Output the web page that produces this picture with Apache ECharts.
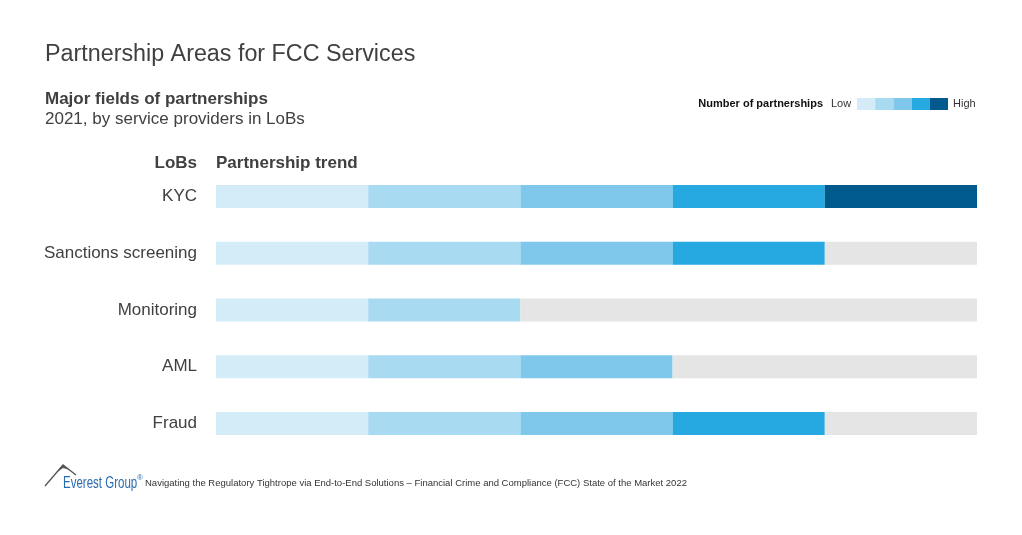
<!DOCTYPE html>
<html>
<head>
<meta charset="utf-8">
<script src="https://cdn.jsdelivr.net/npm/echarts@6/dist/echarts.min.js"></script>
<style>html,body{margin:0;padding:0;background:#fff}#c{width:1022px;height:535px}</style>
</head>
<body>
<div id="c"></div>
<script>
const categories = ['KYC', 'Sanctions screening', 'Monitoring', 'AML', 'Fraud'];
const levels = [5, 4, 2, 3, 4];
const maxLevel = 5;
const levelColors = ['#D4ECF8', '#A8DAF2', '#7FC8EC', '#26A8E0', '#005B8C'];
const restColor = '#E5E5E5';

const FONT = 'Liberation Sans, Arial, sans-serif';
const chart = echarts.init(document.getElementById('c'));

const series = levelColors.map((col, i) => ({
  type: 'bar', stack: 'p', barWidth: 23, silent: true,
  itemStyle: { color: col },
  data: levels.map(l => (l > i ? 1 : 0))
}));
series.push({
  type: 'bar', stack: 'p', barWidth: 23, silent: true,
  itemStyle: { color: restColor },
  data: levels.map(l => maxLevel - l)
});

const legendRects = levelColors.map((col, i) => ({
  type: 'rect', shape: { x: 857 + i * 18.2, y: 98, width: 18.2, height: 12 },
  style: { fill: col }
}));

function txt(x, y, text, font, fill, align) {
  return { type: 'text', x: x, y: y, style: { text: text, fill: fill, font: font, textAlign: align || 'left', textVerticalAlign: 'middle' } };
}

chart.setOption({
  animation: false,
  grid: { left: 216, right: 45, top: 168, bottom: 83 },
  xAxis: { type: 'value', min: 0, max: maxLevel, show: false },
  yAxis: {
    type: 'category', data: categories, inverse: true,
    axisLine: { show: false }, axisTick: { show: false },
    axisLabel: { color: '#404040', fontSize: 17, fontFamily: FONT, margin: 19 }
  },
  series: series,
  graphic: [
    txt(45, 55, 'Partnership Areas for FCC Services', '23.3px ' + FONT, '#404040'),
    txt(45, 99, 'Major fields of partnerships', 'bold 17px ' + FONT, '#404040'),
    txt(45, 119, '2021, by service providers in LoBs', '17px ' + FONT, '#404040'),
    txt(197, 163, 'LoBs', 'bold 17px ' + FONT, '#404040', 'right'),
    txt(216, 163, 'Partnership trend', 'bold 17px ' + FONT, '#404040'),
    txt(823, 104, 'Number of partnerships', 'bold 11px ' + FONT, '#111', 'right'),
    txt(831, 104, 'Low', '11px ' + FONT, '#333'),
    txt(953, 104, 'High', '11px ' + FONT, '#333'),
    ...legendRects,
    { type: 'polyline', shape: { points: [[45, 486], [63, 465], [76, 475]] }, style: { stroke: '#555', lineWidth: 1.3, fill: null } },
    { type: 'polygon', shape: { points: [[56, 473], [63, 465], [70, 470], [63, 468]] }, style: { fill: '#555' } },
    { type: 'text', x: 63, y: 484, scaleX: 0.72, style: { text: 'Everest Group', fill: '#2A6BB0', font: '16px ' + FONT, textAlign: 'left', textVerticalAlign: 'middle' } },
    txt(137, 478, '®', '8px ' + FONT, '#2A6BB0'),
    txt(145, 483, 'Navigating the Regulatory Tightrope via End-to-End Solutions – Financial Crime and Compliance (FCC) State of the Market 2022', '9.5px ' + FONT, '#333')
  ]
});
</script>
</body>
</html>
